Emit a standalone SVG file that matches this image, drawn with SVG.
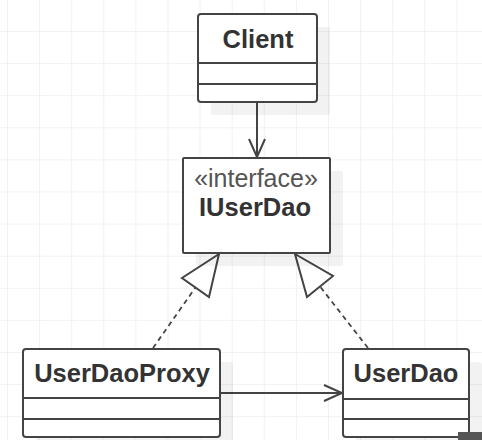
<svg xmlns="http://www.w3.org/2000/svg" width="482" height="440" viewBox="0 0 482 440">
<style>
.box{fill:#fff;stroke:#444;stroke-width:2}
.sh{fill:#000;fill-opacity:0.05}
.div{stroke:#444;stroke-width:2}
.name{font-family:"Liberation Sans",Arial,sans-serif;font-weight:bold;font-size:25.5px;fill:#333;text-anchor:middle}
.ster{font-family:"Liberation Sans",Arial,sans-serif;font-size:25px;fill:#555;text-anchor:middle}
.edge{fill:none;stroke:#444;stroke-width:2}
.dash{fill:none;stroke:#444;stroke-width:1.8;stroke-dasharray:5,4}
.tri{fill:#fff;stroke:#444;stroke-width:2;stroke-linejoin:miter}
</style>
<defs>
<pattern id="grid" x="7" y="31" width="32.1" height="32.1" patternUnits="userSpaceOnUse">
<path d="M0,0 V32.1 M0,0 H32.1" fill="none" stroke="#eeeeee" stroke-width="1.6"/>
</pattern>
<marker id="open" markerUnits="userSpaceOnUse" markerWidth="24" markerHeight="24" refX="19" refY="9" orient="auto">
<path d="M1,1 L19,9 L1,17" fill="none" stroke="#444" stroke-width="2"/>
</marker>
</defs>
<rect width="482" height="440" fill="#fff"/>
<rect width="482" height="440" fill="url(#grid)"/>

<g id="connectors">
<path class="edge" d="M257,102 V157" marker-end="url(#open)"/>
<path class="edge" d="M220,393 H342" marker-end="url(#open)"/>
<path class="dash" d="M153,348 L195.5,287.5"/>
<polygon class="tri" points="219,254 182,278 209,297"/>
<path class="dash" d="M368,348 L320,286.5"/>
<polygon class="tri" points="295,254 333,276 307,297"/>
</g>

<g id="Client">
<rect class="sh" x="211" y="27" width="119" height="88" rx="3"/>
<rect class="box" x="198" y="14" width="119" height="88" rx="3"/>
<line class="div" x1="198" y1="63" x2="317" y2="63"/>
<line class="div" x1="198" y1="84" x2="317" y2="84"/>
<text class="name" x="258" y="48">Client</text>
</g>

<g id="IUserDao">
<rect class="sh" x="196" y="171" width="147" height="95" rx="2"/>
<rect class="box" x="183" y="158" width="147" height="95" rx="1"/>
<text class="ster" x="256" y="187">«interface»</text>
<text class="name" x="255" y="216">IUserDao</text>
</g>

<g id="UserDaoProxy">
<rect class="sh" x="36" y="362" width="197" height="88" rx="3"/>
<rect class="box" x="23" y="349" width="197" height="88" rx="3"/>
<line class="div" x1="23" y1="398" x2="220" y2="398"/>
<line class="div" x1="23" y1="419" x2="220" y2="419"/>
<text class="name" x="122" y="382">UserDaoProxy</text>
</g>

<g id="UserDao">
<rect class="sh" x="356" y="362" width="126" height="88" rx="3"/>
<rect class="box" x="343" y="349" width="126" height="88" rx="3"/>
<line class="div" x1="343" y1="399" x2="469" y2="399"/>
<line class="div" x1="343" y1="419" x2="469" y2="419"/>
<text class="name" x="406" y="382">UserDao</text>
</g>

<rect x="458" y="432" width="24" height="8" fill="#555"/>
</svg>
